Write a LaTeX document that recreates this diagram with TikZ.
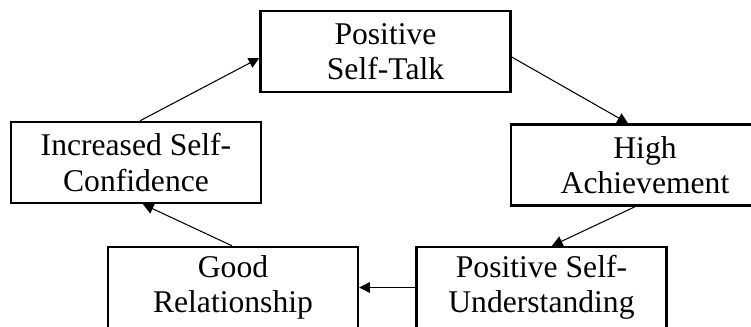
\documentclass[tikz,border=0pt]{standalone}
\usepackage{fontspec}
\setmainfont{Liberation Serif}
\usetikzlibrary{arrows.meta, calc}

\begin{document}
\begin{tikzpicture}[
    x=0.02cm, y=-0.02cm,
    font=\fontsize{18}{20}\selectfont,
    stage/.style={draw, line width=1.4pt, align=center, minimum width=5cm, minimum height=1.62cm, inner sep=0pt},
    arrow/.style={-{Triangle[length=6pt, width=6pt]}, line width=0.6pt}
]
  \useasboundingbox (0,0) rectangle (751,326);
  % cycle of stages
  \node[stage] (talk) at (385.5,51.5) {Positive\\Self-Talk};
  \node[stage] (conf) at (136,162.5) {Increased Self-\\Confidence};
  \node[stage, minimum width=5.36cm] (high) at (645,165) {High\\Achievement};
  \node[stage] (under) at (541.5,287.5) {Positive Self-\\Understanding};
  \node[stage] (good) at (233,287.5) {Good\\Relationship};

  \draw[arrow] ($(conf.north)+(4,0)$) -- ($(talk.west)+(0,6.5)$);
  \draw[arrow] ($(talk.east)+(0,5.5)$) -- ($(high.north)+(-17,0)$);
  \draw[arrow] ($(high.south)+(-10,0)$) -- ($(under.north)+(10.5,0)$);
  \draw[arrow] (under.west) -- (good.east);
  \draw[arrow] ($(good.north)+(-1,0)$) -- ($(conf.south)+(7,0)$);
\end{tikzpicture}
\end{document}
